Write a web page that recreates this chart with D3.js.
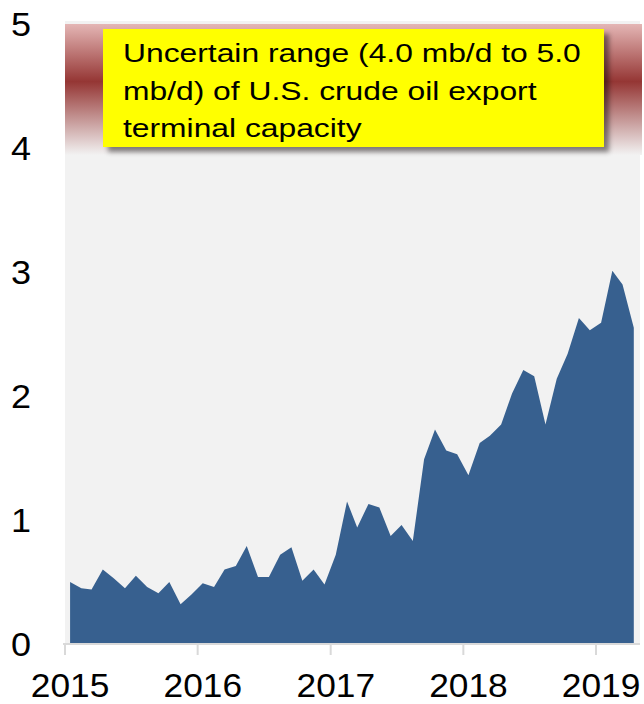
<!DOCTYPE html>
<html>
<head>
<meta charset="utf-8">
<script src="https://cdn.jsdelivr.net/npm/d3@7/dist/d3.min.js"></script>
<style>
  html, body { margin: 0; padding: 0; background: #ffffff; }
  svg { display: block; font-family: "Liberation Sans", Arial, sans-serif; }
</style>
</head>
<body>
<svg id="chart" width="644" height="704"></svg>
<script>
// U.S. crude oil exports, million barrels per day, monthly Jan 2015 – Apr 2019
const startYear = 2015;
const startMonth = 0;
const exportsMbd = [
  0.50, 0.45, 0.44, 0.60, 0.53, 0.45, 0.55, 0.46, 0.41, 0.50, 0.32, 0.40,
  0.49, 0.46, 0.60, 0.63, 0.79, 0.54, 0.54, 0.72, 0.78, 0.51, 0.60, 0.48,
  0.72, 1.15, 0.94, 1.13, 1.10, 0.87, 0.96, 0.83, 1.49, 1.73, 1.56, 1.53,
  1.36, 1.62, 1.68, 1.77, 2.02, 2.21, 2.16, 1.77, 2.14, 2.34, 2.63, 2.53,
  2.59, 3.01, 2.90, 2.55
];
const yTicks = [0, 1, 2, 3, 4, 5];
const yearTicks = [2015, 2016, 2017, 2018, 2019];
const capacityRange = [4.0, 5.0];
const noteLines = [
  "Uncertain range (4.0 mb/d to 5.0",
  "mb/d) of U.S. crude oil export",
  "terminal capacity"
];

const data = exportsMbd.map((v, i) => ({
  date: new Date(startYear, startMonth + i, 15),
  value: v
}));

const svg = d3.select("#chart");
const plotLeft = 65, plotRight = 640, plotTop = 21, plotBottom = 644;

const x = d3.scaleTime()
  .domain([new Date(2015, 0, 1), new Date(2019, 0, 1)])
  .range([65, 596]);
const y = d3.scaleLinear().domain([0, 5]).range([644, 24]);

const defs = svg.append("defs");
const grad = defs.append("linearGradient")
  .attr("id", "bandGrad").attr("x1", 0).attr("y1", 0).attr("x2", 0).attr("y2", 1);
grad.append("stop").attr("offset", "0%").attr("stop-color", "#e4b6b5");
grad.append("stop").attr("offset", "44%").attr("stop-color", "#953634");
grad.append("stop").attr("offset", "100%").attr("stop-color", "#f2f2f2");

const shadow = defs.append("filter").attr("id", "boxShadow")
  .attr("x", "-10%").attr("y", "-10%").attr("width", "130%").attr("height", "140%");
shadow.append("feDropShadow")
  .attr("dx", 5).attr("dy", 5).attr("stdDeviation", 2.5)
  .attr("flood-color", "#000").attr("flood-opacity", 0.45);

// plot background
svg.append("rect")
  .attr("x", plotLeft).attr("y", plotTop)
  .attr("width", plotRight - plotLeft).attr("height", plotBottom - plotTop)
  .attr("fill", "#f2f2f2");

// capacity range band
svg.append("rect")
  .attr("x", plotLeft).attr("y", y(capacityRange[1]))
  .attr("width", plotRight - plotLeft + 2)
  .attr("height", y(capacityRange[0]) - y(capacityRange[1]) + 7)
  .attr("fill", "url(#bandGrad)");

// exports area
const area = d3.area()
  .x(d => x(d.date))
  .y0(y(0))
  .y1(d => y(d.value));
svg.append("path")
  .datum(data)
  .attr("d", area)
  .attr("fill", "#37608f");

// x axis line and year ticks
svg.append("line")
  .attr("x1", 63).attr("x2", plotRight)
  .attr("y1", 644).attr("y2", 644)
  .attr("stroke", "#d9d9d9").attr("stroke-width", 2);
svg.selectAll(".xtick").data(yearTicks).enter().append("line")
  .attr("x1", d => x(new Date(d, 0, 1))).attr("x2", d => x(new Date(d, 0, 1)))
  .attr("y1", 644).attr("y2", 655)
  .attr("stroke", "#d9d9d9").attr("stroke-width", 2);

// labels are slightly wide-set, so stretch them horizontally
svg.selectAll(".xlabel").data(yearTicks).enter().append("text")
  .attr("transform", d => `translate(${x(new Date(d, 0, 15))},697) scale(1.07,1)`)
  .attr("text-anchor", "middle")
  .attr("font-size", 33)
  .attr("fill", "#000")
  .text(d => d);

// y axis labels
svg.selectAll(".ylabel").data(yTicks).enter().append("text")
  .attr("transform", d => `translate(31,${y(d) + 12}) scale(1.06,1)`)
  .attr("text-anchor", "end")
  .attr("font-size", 34)
  .attr("fill", "#000")
  .text(d => d);

// annotation box
svg.append("rect")
  .attr("x", 103).attr("y", 29)
  .attr("width", 501).attr("height", 118)
  .attr("fill", "#ffff00")
  .attr("filter", "url(#boxShadow)");
const note = svg.append("text")
  .attr("transform", "translate(123,62) scale(1.2,1)")
  .attr("font-size", 26.5)
  .attr("fill", "#000");
note.selectAll("tspan").data(noteLines).enter().append("tspan")
  .attr("x", 0)
  .attr("y", (d, i) => i * 37.7)
  .text(d => d);
</script>
</body>
</html>
